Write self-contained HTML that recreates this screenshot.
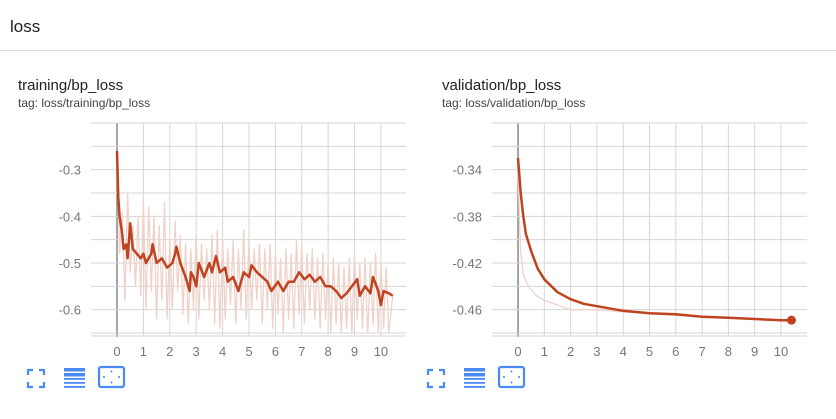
<!DOCTYPE html>
<html><head><meta charset="utf-8"><style>
body{margin:0;width:836px;height:419px;background:#fff;font-family:"Liberation Sans",sans-serif;overflow:hidden;position:relative}
.t{position:absolute;color:#212121}
</style></head><body>
<div class="t" style="left:10px;top:17px;font-size:17px">loss</div>
<div style="position:absolute;left:0;top:50px;width:836px;height:1px;background:#ddd"></div>
<div class="t" style="left:18px;top:77px;font-size:15px">training/bp_loss</div>
<div class="t" style="left:18px;top:96px;font-size:12px;color:#444">tag: loss/training/bp_loss</div>
<div class="t" style="left:442px;top:77px;font-size:15px">validation/bp_loss</div>
<div class="t" style="left:442px;top:96px;font-size:12px;color:#444">tag: loss/validation/bp_loss</div>
<svg id="svg" width="836" height="419" style="position:absolute;left:0;top:0"></svg>
<script>
const trainSmoothX=[0,0.05,0.1,0.2,0.25,0.35,0.4,0.5,0.6,0.75,0.9,1.0,1.1,1.3,1.35,1.5,1.7,1.9,2.1,2.2,2.25,2.4,2.6,2.75,2.8,2.9,3.0,3.1,3.3,3.5,3.6,3.75,3.9,4.1,4.2,4.4,4.6,4.8,5.0,5.1,5.3,5.5,5.7,5.85,6.1,6.3,6.5,6.7,6.9,7.1,7.3,7.5,7.7,7.9,8.1,8.3,8.5,8.7,8.9,9.1,9.2,9.4,9.6,9.7,9.9,10.0,10.1,10.3,10.45];
const trainSmoothY=[-0.26,-0.36,-0.40,-0.44,-0.47,-0.46,-0.49,-0.415,-0.47,-0.48,-0.49,-0.48,-0.50,-0.48,-0.46,-0.50,-0.49,-0.51,-0.50,-0.48,-0.465,-0.50,-0.53,-0.56,-0.52,-0.53,-0.55,-0.50,-0.53,-0.50,-0.52,-0.485,-0.52,-0.51,-0.54,-0.53,-0.56,-0.52,-0.53,-0.505,-0.52,-0.53,-0.54,-0.56,-0.54,-0.56,-0.54,-0.54,-0.52,-0.535,-0.525,-0.54,-0.53,-0.55,-0.55,-0.56,-0.575,-0.565,-0.55,-0.535,-0.57,-0.55,-0.565,-0.53,-0.56,-0.59,-0.56,-0.565,-0.57];
const trainRawX=[0,0.1,0.2,0.3,0.4,0.5,0.6,0.7,0.8,0.9,1.0,1.1,1.2,1.3,1.4,1.5,1.6,1.7,1.8,1.9,2.0,2.1,2.2,2.3,2.4,2.5,2.6,2.7,2.8,2.9,3.0,3.1,3.2,3.3,3.4,3.5,3.6,3.7,3.8,3.9,4.0,4.1,4.2,4.3,4.4,4.5,4.6,4.7,4.8,4.9,5.0,5.1,5.2,5.3,5.4,5.5,5.6,5.7,5.8,5.9,6.0,6.1,6.2,6.3,6.4,6.5,6.6,6.7,6.8,6.9,7.0,7.1,7.2,7.3,7.4,7.5,7.6,7.7,7.8,7.9,8.0,8.1,8.2,8.3,8.4,8.5,8.6,8.7,8.8,8.9,9.0,9.1,9.2,9.3,9.4,9.5,9.6,9.7,9.8,9.9,10.0,10.1,10.2,10.3,10.45];
const trainRawY=[-0.26,-0.48,-0.39,-0.58,-0.35,-0.52,-0.42,-0.55,-0.40,-0.57,-0.37,-0.60,-0.38,-0.56,-0.40,-0.62,-0.42,-0.58,-0.37,-0.62,-0.45,-0.60,-0.41,-0.56,-0.44,-0.61,-0.46,-0.63,-0.47,-0.60,-0.44,-0.62,-0.46,-0.58,-0.47,-0.60,-0.44,-0.63,-0.43,-0.64,-0.45,-0.62,-0.47,-0.59,-0.45,-0.63,-0.47,-0.60,-0.43,-0.62,-0.45,-0.60,-0.47,-0.58,-0.46,-0.63,-0.47,-0.60,-0.46,-0.64,-0.48,-0.61,-0.49,-0.65,-0.47,-0.62,-0.48,-0.64,-0.45,-0.61,-0.46,-0.63,-0.48,-0.60,-0.47,-0.62,-0.49,-0.64,-0.48,-0.62,-0.50,-0.65,-0.49,-0.63,-0.50,-0.65,-0.51,-0.64,-0.49,-0.65,-0.48,-0.62,-0.50,-0.64,-0.49,-0.66,-0.50,-0.63,-0.48,-0.65,-0.50,-0.64,-0.51,-0.65,-0.57];
const valSmoothX=[0,0.1,0.2,0.3,0.5,0.75,1,1.5,2,2.5,3,4,5,6,7,8,9,10,10.4];
const valSmoothY=[-0.33,-0.36,-0.38,-0.395,-0.41,-0.425,-0.434,-0.445,-0.451,-0.455,-0.457,-0.461,-0.463,-0.464,-0.466,-0.467,-0.468,-0.469,-0.469];
const valRawX=[0,0.05,0.1,0.2,0.4,0.7,1,1.5,2,3,4,5,6,7,8,9,10,10.4];
const valRawY=[-0.34,-0.38,-0.41,-0.43,-0.44,-0.448,-0.452,-0.456,-0.46,-0.46,-0.462,-0.463,-0.465,-0.466,-0.467,-0.468,-0.469,-0.469];
const xTicks=[0,1,2,3,4,5,6,7,8,9,10];
const trainYTicks=[-0.3,-0.4,-0.5,-0.6];
const valYTicks=[-0.34,-0.38,-0.42,-0.46];

const NS="http://www.w3.org/2000/svg";
const svg=document.getElementById('svg');
function mk(tag,attrs,parent){const e=document.createElementNS(NS,tag);for(const k in attrs)e.setAttribute(k,attrs[k]);(parent||svg).appendChild(e);return e;}
function chart(o){
  const sx=v=>o.x0+(v-o.xmin)/(o.xmax-o.xmin)*(o.x1-o.x0);
  const sy=v=>o.y1-(v-o.ymin)/(o.ymax-o.ymin)*(o.y1-o.y0);
  const g=mk('g',{});
  
  
  const cp=mk('clipPath',{id:o.name+'-clip'},g);
  mk('rect',{x:o.x0,y:o.y0,width:o.x1-o.x0,height:o.y1-o.y0},cp);
  for(let v=Math.ceil(o.xmin);v<=o.xmax;v++){const l=mk('line',{x1:sx(v),x2:sx(v),y1:o.y0,y2:o.y1+4,stroke:v===0?'#888':'#d6d6d6','stroke-width':v===0?1.5:1},g);
    }
  for(let v=o.ymin;v<=o.ymax+1e-9;v+=o.ystep){const l=mk('line',{x1:o.x0,x2:o.x1,y1:sy(v),y2:sy(v),stroke:'#d6d6d6'},g);
    }
  mk('line',{x1:o.x0,x2:o.x1,y1:o.y1+3,y2:o.y1+3,stroke:'#d6d6d6'},g);
  o.xt.forEach(v=>{const t=mk('text',{x:sx(v),y:o.y1+23,'text-anchor':'middle','font-size':13,fill:'#777'},g);t.textContent=v;
    });
  o.yt.forEach(v=>{const t=mk('text',{x:o.x0-10,y:sy(v)+5,'text-anchor':'end','font-size':13,fill:'#777'},g);t.textContent=v;
    });
  const pts=(X,Y)=>X.map((x,i)=>sx(x).toFixed(1)+','+sy(Y[i]).toFixed(1)).join(' ');
  const raw=mk('polyline',{points:pts(o.rx,o.ry),fill:'none',stroke:'#efd2c8','stroke-width':1.3,'stroke-linejoin':'round','clip-path':'url(#'+o.name+'-clip)'},g);
  
  const sm=mk('polyline',{points:pts(o.sx,o.sy),fill:'none',stroke:'#bf4320','stroke-width':2.5,'stroke-linejoin':'round'},g);
  
  if(o.dot){const c=mk('circle',{cx:sx(o.sx[o.sx.length-1]),cy:sy(o.sy[o.sy.length-1]),r:4.5,fill:'#bf4320'},g);
    }
}
chart({name:'training-chart',x0:91,x1:406,y0:123,y1:333,xmin:-0.985,xmax:10.95,ymin:-0.65,ymax:-0.2,ystep:0.05,xt:xTicks,yt:trainYTicks,sx:trainSmoothX,sy:trainSmoothY,rx:trainRawX,ry:trainRawY,dot:false});
chart({name:'validation-chart',x0:492,x1:807,y0:123,y1:333,xmin:-0.99,xmax:10.99,ymin:-0.48,ymax:-0.30,ystep:0.02,xt:xTicks,yt:valYTicks,sx:valSmoothX,sy:valSmoothY,rx:valRawX,ry:valRawY,dot:true});
function icons(x,n){
  const b='#4a8af4';
  const g=mk('g',{});
  
  const f=mk('path',{d:`M${x} 375v-5h5M${x+11} 370h5v5M${x+16} 382v5h-5M${x+5} 387h-5v-5`,fill:'none',stroke:b,'stroke-width':2.2},g);
  
  const l=mk('g',{},g);
  
  [369,374,378,382,386].forEach((y,i)=>mk('rect',{x:x+36,y:y-(i<2?1:0),width:21,height:i<2?3.5:1.8,fill:b},l));
  const r=mk('g',{},g);
  
  mk('rect',{x:x+71,y:367,width:25,height:20,rx:2,fill:'none',stroke:b,'stroke-width':2.2},r);
  [[x+83.5,371.5],[x+83.5,382.5],[x+76,377],[x+91,377]].forEach(p=>mk('circle',{cx:p[0],cy:p[1],r:1,fill:b},r));
}
icons(28,'training');icons(428,'validation');
</script>
</body></html>
